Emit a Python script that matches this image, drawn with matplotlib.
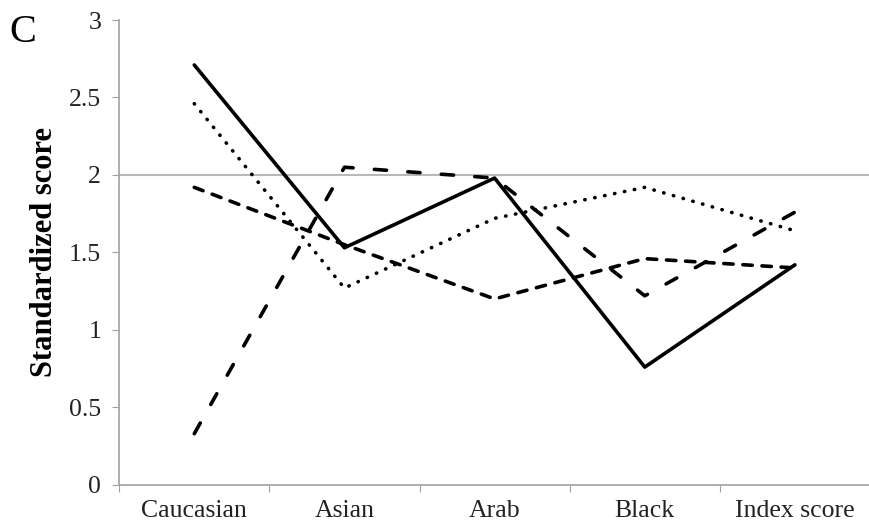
import matplotlib.pyplot as plt
import numpy as np

categories = ["Caucasian", "Asian", "Arab", "Black", "Index score"]
solid_vals = [2.71, 1.53, 1.98, 0.76, 1.42]
dotted_vals = [2.46, 1.27, 1.72, 1.92, 1.64]
long_dash_vals = [0.33, 2.05, 1.98, 1.22, 1.76]
short_dash_vals = [1.92, 1.55, 1.20, 1.46, 1.40]

plt.rcParams['font.family'] = ['Liberation Serif', 'DejaVu Serif']

fig = plt.figure(figsize=(8.7, 5.27), dpi=100)
ax = fig.add_axes([0.137, 0.080, 0.863, 0.882])

x = np.arange(len(categories))
ax.axhline(2, color="#b8b8b8", lw=1.5, zorder=1)

ax.plot(x, solid_vals, color="black", lw=2.6, solid_capstyle="round")
ax.plot(x, dotted_vals, color="black", lw=2.6, linestyle=(0, (0.1, 2.7)),
        dash_capstyle="round")
ax.plot(x, long_dash_vals, color="black", lw=2.6, linestyle=(0, (3.4, 5.9)),
        dash_capstyle="round")
ax.plot(x, short_dash_vals, color="black", lw=2.6, linestyle=(0, (2.6, 2.7)),
        dash_capstyle="round")

ax.set_xlim(-0.5, 4.5)
ax.set_ylim(0, 3)
ax.set_yticks([0, 0.5, 1, 1.5, 2, 2.5, 3])
ax.set_yticklabels(["0", "0.5", "1", "1.5", "2", "2.5", "3"])

ax.set_xticks(np.arange(-0.5, 4.6, 1))
ax.set_xticklabels([])
ax.set_xticks(x, minor=True)
ax.set_xticklabels(categories, minor=True)
ax.tick_params(axis="x", which="minor", length=0, pad=11, labelsize=18.5,
               labelcolor="#222222")
ax.tick_params(axis="x", which="major", length=5, color="#a0a0a0")
ax.tick_params(axis="y", length=5, color="#a0a0a0", labelsize=18.5, pad=8,
               labelcolor="#222222")

for side in ["top", "right"]:
    ax.spines[side].set_visible(False)
for side in ["left", "bottom"]:
    ax.spines[side].set_color("#a0a0a0")
    ax.spines[side].set_linewidth(1.2)

ax.set_ylabel("Standardized score", fontsize=22, fontweight="bold", labelpad=7)
fig.text(0.011, 0.92, "C", fontsize=29, va="baseline")

fig.savefig("out.png", dpi=100)
